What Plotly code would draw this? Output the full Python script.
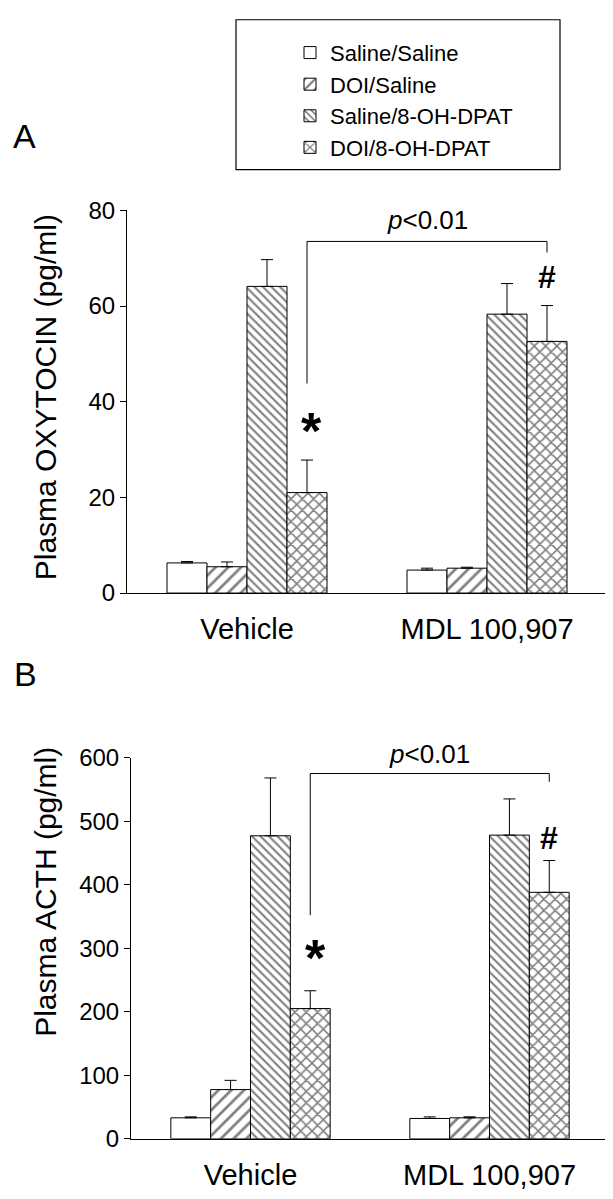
import plotly.graph_objects as go

# ---------------- data ----------------
groups = ["Vehicle", "MDL 100,907"]
series_names = ["Saline/Saline", "DOI/Saline", "Saline/8-OH-DPAT", "DOI/8-OH-DPAT"]

# Panel A: plasma oxytocin (pg/ml)
oxy_saline_saline = [6.3, 4.8]
oxy_doi_saline = [5.5, 5.2]
oxy_saline_dpat = [64.1, 58.3]
oxy_doi_dpat = [21.0, 52.6]
oxy_saline_saline_sem = [0.3, 0.4]
oxy_doi_saline_sem = [1.0, 0.2]
oxy_saline_dpat_sem = [5.6, 6.4]
oxy_doi_dpat_sem = [6.8, 7.5]

# Panel B: plasma ACTH (pg/ml)
acth_saline_saline = [33, 32]
acth_doi_saline = [77.5, 33]
acth_saline_dpat = [477, 478]
acth_doi_dpat = [205, 388]
acth_saline_saline_sem = [1.5, 2.5]
acth_doi_saline_sem = [14.5, 1.6]
acth_saline_dpat_sem = [91, 57]
acth_doi_dpat_sem = [28, 50]

oxy_ticks = [0, 20, 40, 60, 80]
acth_ticks = [0, 100, 200, 300, 400, 500, 600]

# significance bracket levels (left foot, top, right foot, label, star, hash)
oxy_bracket = [43.8, 73.5, 71.2, 78.0, 35.9, 66.0]
acth_bracket = [352, 575, 562, 606, 301, 474]

# ---------------- styling ----------------
FONT = "Liberation Sans, Arial, Helvetica, sans-serif"
patterns = {
    "Saline/Saline": dict(shape=""),
    "DOI/Saline": dict(shape="/", size=9, solidity=0.3, fgcolor="black", bgcolor="white"),
    "Saline/8-OH-DPAT": dict(shape="\\", size=6, solidity=0.35, fgcolor="black", bgcolor="white"),
    "DOI/8-OH-DPAT": dict(shape="x", size=8, solidity=0.35, fgcolor="black", bgcolor="white"),
}

# page body has an 8 px margin: figure is placed at (8, 8) in the window
OFF = 8
W, H = 613 - OFF, 1199 - OFF

def px_x(p):
    return (p - OFF) / W

def px_y(p):
    return (H - (p - OFF)) / H

fig = go.Figure()

panels = [
    ("x", "y", [oxy_saline_saline, oxy_doi_saline, oxy_saline_dpat, oxy_doi_dpat],
     [oxy_saline_saline_sem, oxy_doi_saline_sem, oxy_saline_dpat_sem, oxy_doi_dpat_sem], True),
    ("x2", "y2", [acth_saline_saline, acth_doi_saline, acth_saline_dpat, acth_doi_dpat],
     [acth_saline_saline_sem, acth_doi_saline_sem, acth_saline_dpat_sem, acth_doi_dpat_sem], False),
]

for xa, ya, means, sems, show in panels:
    for name, m, s in zip(series_names, means, sems):
        fig.add_trace(go.Bar(
            x=groups, y=m, name=name, xaxis=xa, yaxis=ya,
            showlegend=show, legendgroup=name,
            marker=dict(color="white", pattern=patterns[name],
                        line=dict(color="black", width=1)),
            error_y=dict(type="data", array=s, arrayminus=[0] * len(s),
                         symmetric=False, color="black", thickness=1, width=6),
        ))

axis_common = dict(showline=True, linecolor="black", linewidth=1, showgrid=False,
                   zeroline=False, color="black")

fig.update_layout(
    width=W, height=H, margin=dict(l=0, r=0, t=0, b=0),
    paper_bgcolor="white", plot_bgcolor="white",
    barmode="group", bargap=1/3, bargroupgap=0,
    font=dict(family=FONT, color="black"),
    xaxis=dict(domain=[px_x(127), px_x(607)], anchor="y", range=[-0.5, 1.5],
               ticks="", tickfont=dict(size=29), ticklabelstandoff=10, **axis_common),
    yaxis=dict(domain=[px_y(592.3), px_y(200.7)], anchor="x", range=[0, 80],
               tickvals=oxy_ticks, ticks="outside", ticklen=6, tickcolor="black",
               tickfont=dict(size=24), **axis_common),
    xaxis2=dict(domain=[px_x(131), px_x(609)], anchor="y2", range=[-0.5, 1.5],
                ticks="", tickfont=dict(size=29), ticklabelstandoff=10, **axis_common),
    yaxis2=dict(domain=[px_y(1150.7), px_y(760.7)], anchor="x2", range=[0, 600],
                tickvals=acth_ticks, ticks="outside", ticklen=6, tickcolor="black",
                tickfont=dict(size=24), **axis_common),
    legend=dict(x=px_x(290), y=px_y(18), xanchor="left", yanchor="top",
                font=dict(size=22, family=FONT), bgcolor="rgba(0,0,0,0)",
                borderwidth=0, tracegroupgap=0, traceorder="normal"),
)

# legend frame
fig.add_shape(type="rect", xref="paper", yref="paper",
              x0=px_x(236), x1=px_x(560), y0=px_y(159), y1=px_y(5.7),
              line=dict(color="black", width=1.2), fillcolor="rgba(0,0,0,0)")

# brackets + significance marks
for xa, ya, br, ytop, upp in [("x", "y", oxy_bracket, 80, 4.895), ("x2", "y2", acth_bracket, 600, 0.65)]:
    left, right = 0.25, 1.25
    for x0, y0, x1, y1 in [(left, br[0], left, br[1]), (left, br[1], right, br[1]),
                           (right, br[1], right, br[2])]:
        fig.add_shape(type="line", xref=xa, yref=ya, x0=x0, y0=y0, x1=x1, y1=y1,
                      line=dict(color="black", width=1))
    ylab = min(br[3], ytop)
    fig.add_annotation(x=(left + right) / 2, y=ylab, xref=xa, yref=ya,
                       yshift=(br[3] - ylab) * upp,
                       text="<i>p</i>&lt;0.01", showarrow=False,
                       font=dict(size=26, family=FONT))
    fig.add_annotation(x=left + 0.02, y=br[4], xref=xa, yref=ya, yshift=-10,
                       text="<b>*</b>", showarrow=False,
                       font=dict(size=52, family=FONT))
    fig.add_annotation(x=right, y=br[5], xref=xa, yref=ya,
                       text="<b>#</b>", showarrow=False,
                       font=dict(size=32, family=FONT))

# panel letters
fig.add_annotation(x=px_x(24), y=px_y(125), xref="paper", yref="paper", text="A",
                   xanchor="center", yanchor="middle",
                   showarrow=False, font=dict(size=34, family=FONT))
fig.add_annotation(x=px_x(25), y=px_y(675), xref="paper", yref="paper", text="B",
                   xanchor="center", yanchor="middle",
                   showarrow=False, font=dict(size=34, family=FONT))

# y-axis titles
fig.add_annotation(x=px_x(45), y=px_y(392), xref="paper", yref="paper",
                   xanchor="center", yanchor="middle",
                   text="Plasma OXYTOCIN (pg/ml)", textangle=-90, showarrow=False,
                   font=dict(size=30, family=FONT))
fig.add_annotation(x=px_x(46), y=px_y(898), xref="paper", yref="paper",
                   xanchor="center", yanchor="middle",
                   text="Plasma ACTH (pg/ml)", textangle=-90, showarrow=False,
                   font=dict(size=30, family=FONT))

fig.write_html("out.html")
